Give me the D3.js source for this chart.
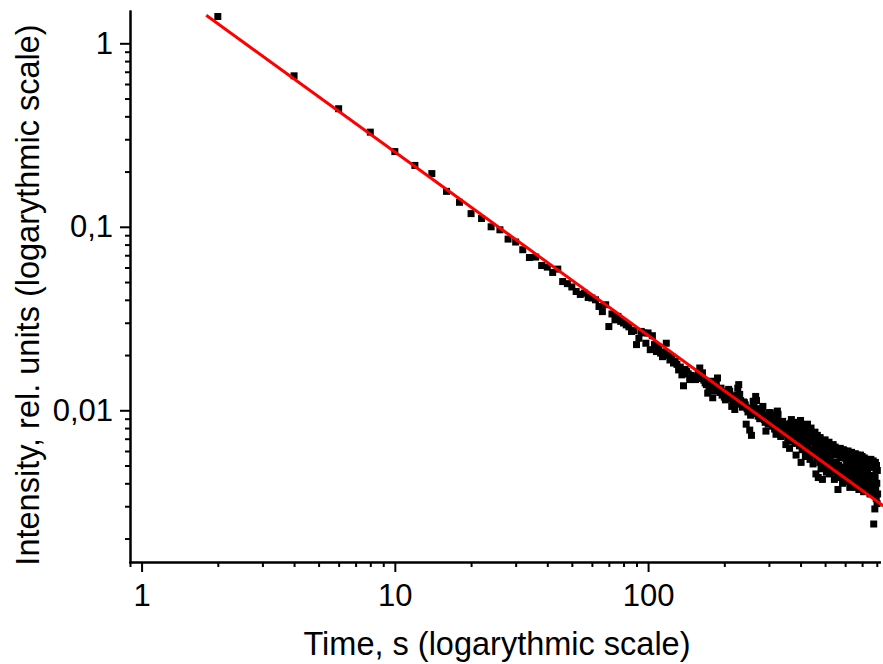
<!DOCTYPE html>
<meta charset="utf-8">
<style>

body {
  margin: 0;
  background: #fff;
}

svg {
  display: block;
}

.axis path,
.axis line {
  stroke: #000;
  stroke-width: 2px;
}

.axis text {
  font-family: "Liberation Sans", Arial, sans-serif;
  font-size: 31px;
  fill: #000;
}

.title {
  font-family: "Liberation Sans", Arial, sans-serif;
  font-size: 32.5px;
  fill: #000;
}

</style>
<body>
<script src="https://cdn.jsdelivr.net/npm/d3@7"></script>
<script>

var w = 883,
    h = 664;

var xDomain = [0.9, 820],
    yDomain = [1.5, 0.00149];

var xMajor = [1, 10, 100],
    xLabels = ["1", "10", "100"];

var yMajor = [1, 0.1, 0.01],
    yLabels = ["1", "0,1", "0,01"];

// power-law fit, I = A * t^B
var fitA = 2.56,
    fitB = -1.0,
    fitRange = [1.8, 850];

// [time (s), intensity]
var points = [
  [2,1.40],[4,0.665],[6,0.440],[8,0.328],[10,0.257],[12,0.216],[14,0.195],[16,0.156],[18,0.136],[20,0.118],
  [22,0.111],[24,0.100],[26,0.0963],[28,0.0857],[30,0.0826],[32,0.0750],[34,0.0680],[36,0.0684],[38,0.0615],[40,0.0603],
  [42,0.0564],[44,0.0588],[46,0.0503],[48,0.0490],[50,0.0470],[52,0.0444],[54,0.0428],[56,0.0435],[58,0.0412],[60,0.0409],
  [62,0.0400],[64,0.0368],[66,0.0345],[68,0.0376],[70,0.0286],[72,0.0335],[74,0.0311],[76,0.0325],[78,0.0305],[80,0.0299],
  [82,0.0292],[84,0.0285],[86,0.0269],[88,0.0272],[90,0.0228],[92,0.0247],[94,0.0269],[96,0.0264],[98,0.0232],[100,0.0264],
  [102,0.0214],[104,0.0255],[106,0.0228],[108,0.0209],[110,0.0221],[112,0.0205],[114,0.0196],[116,0.0208],[118,0.0232],[120,0.0199],
  [122,0.0188],[124,0.0196],[126,0.0181],[128,0.0185],[130,0.0178],[132,0.0166],[134,0.0172],[136,0.0156],[138,0.0136],[140,0.0167],
  [142,0.0163],[144,0.0158],[146,0.0147],[148,0.0155],[150,0.0152],[152,0.0148],[154,0.0147],[156,0.0151],[158,0.0162],[160,0.0170],
  [162,0.0149],[164,0.0160],[166,0.0146],[168,0.0141],[170,0.0138],[172,0.0124],[174,0.0131],[176,0.0136],[178,0.0144],[180,0.0117],
  [182,0.0128],[184,0.0133],[186,0.0140],[188,0.0150],[190,0.0129],[192,0.0125],[194,0.0132],[196,0.0121],[198,0.0127],[200,0.0118],
  [202,0.0114],[204,0.0122],[206,0.0116],[208,0.0130],[210,0.0127],[212,0.0119],[214,0.0105],[216,0.0112],[218,0.0118],[220,0.0101],
  [222,0.0108],[224,0.0121],[226,0.0132],[228,0.0138],[230,0.0122],[232,0.0113],[234,0.0109],[236,0.0104],[238,0.0111],[240,0.0110],
  [242,0.0107],[244,0.0084],[246,0.0102],[248,0.0098],[250,0.0103],[252,0.0078],[254,0.0094],[256,0.0073],[258,0.0099],[260,0.0112],
  [262,0.0105],[264,0.0096],[266,0.0119],[268,0.0113],[270,0.0101],[272,0.0093],[274,0.0097],[276,0.0090],[278,0.0102],[280,0.0093],
  [282,0.0099],[284,0.0105],[286,0.0094],[288,0.0089],[290,0.0086],[292,0.0077],[294,0.0092],[296,0.0089],[298,0.0084],[300,0.0097],
  [302,0.0090],[304,0.0097],[306,0.0093],[308,0.0086],[310,0.0082],[312,0.0088],[314,0.0082],[316,0.0079],[318,0.0087],[320,0.0074],
  [322,0.0091],[324,0.0099],[326,0.0095],[328,0.0083],[330,0.0079],[332,0.0085],[334,0.0072],[336,0.0081],[338,0.0077],[340,0.0087],
  [342,0.0080],[344,0.0077],[346,0.0074],[348,0.0082],[350,0.0065],[352,0.0078],[354,0.0084],[356,0.0071],[358,0.0076],[360,0.0068],
  [362,0.0062],[364,0.0079],[366,0.0085],[368,0.0089],[370,0.0083],[372,0.0080],[374,0.0073],[376,0.0070],[378,0.0078],[380,0.0066],
  [382,0.0074],[384,0.0057],[386,0.0069],[388,0.0083],[390,0.0086],[392,0.0077],[394,0.0072],[396,0.0064],[398,0.0072],[400,0.0088],
  [402,0.0052],[404,0.0068],[406,0.0061],[408,0.0079],[410,0.0083],[412,0.0074],[414,0.0063],[416,0.0081],[418,0.0056],[420,0.0070],
  [422,0.0077],[424,0.0060],[426,0.0084],[428,0.0066],[430,0.0072],[432,0.0061],[434,0.0078],[436,0.0054],[438,0.0071],[440,0.0080],
  [442,0.0058],[444,0.0069],[446,0.0074],[448,0.0051],[450,0.0067],[452,0.0072],[454,0.0057],[456,0.0076],[458,0.0062],[460,0.0045],
  [462,0.0070],[464,0.0055],[466,0.0073],[468,0.0064],[470,0.0043],[472,0.0060],[474,0.0069],[476,0.0052],[478,0.0071],[480,0.0062],
  [482,0.0048],[484,0.0067],[486,0.0057],[488,0.0042],[490,0.0066],[492,0.0055],[494,0.0068],[496,0.0060],[498,0.0049],[500,0.0069],
  [502,0.0053],[504,0.0064],[506,0.0046],[508,0.0066],[510,0.0058],[512,0.0051],[514,0.0065],[516,0.0056],[518,0.0067],[520,0.0045],
  [522,0.0062],[524,0.0054],[526,0.0064],[528,0.0048],[530,0.0060],[532,0.0063],[534,0.0050],[536,0.0059],[538,0.0065],[540,0.0046],
  [542,0.0061],[544,0.0042],[546,0.0057],[548,0.0063],[550,0.0049],[552,0.0060],[554,0.0052],[556,0.0062],[558,0.0045],[560,0.0058],
  [562,0.0037],[564,0.0061],[566,0.0050],[568,0.0059],[570,0.0047],[572,0.0057],[574,0.0062],[576,0.0043],[578,0.0055],[580,0.0060],
  [582,0.0048],[584,0.0058],[586,0.0040],[588,0.0056],[590,0.0061],[592,0.0045],[594,0.0057],[596,0.0049],[598,0.0060],[600,0.0042],
  [602,0.0055],[604,0.0059],[606,0.0046],[608,0.0053],[610,0.0058],[612,0.0041],[614,0.0056],[616,0.0060],[618,0.0047],[620,0.0044],
  [622,0.0057],[624,0.0050],[626,0.0038],[628,0.0055],[630,0.0058],[632,0.0046],[634,0.0054],[636,0.0059],[638,0.0043],[640,0.0056],
  [642,0.0040],[644,0.0049],[646,0.0057],[648,0.0044],[650,0.0053],[652,0.0056],[654,0.0041],[656,0.0051],[658,0.0058],[660,0.0043],
  [662,0.0054],[664,0.0038],[666,0.0055],[668,0.0047],[670,0.0057],[672,0.0042],[674,0.0053],[676,0.0045],[678,0.0056],[680,0.0037],
  [682,0.0050],[684,0.0055],[686,0.0042],[688,0.0051],[690,0.0057],[692,0.0040],[694,0.0048],[696,0.0054],[698,0.0044],[700,0.0056],
  [702,0.0039],[704,0.0052],[706,0.0043],[708,0.0053],[710,0.0036],[712,0.0047],[714,0.0055],[716,0.0041],[718,0.0051],[720,0.0043],
  [722,0.0054],[724,0.0038],[726,0.0048],[728,0.0053],[730,0.0041],[732,0.0052],[734,0.0039],[736,0.0046],[738,0.0054],[740,0.0037],
  [742,0.0050],[744,0.0042],[746,0.0053],[748,0.0040],[750,0.0049],[752,0.0035],[754,0.0051],[756,0.0044],[758,0.0054],[760,0.0040],
  [762,0.0049],[764,0.0036],[766,0.0052],[768,0.0042],[770,0.0050],[772,0.0038],[774,0.0053],[776,0.0044],[778,0.0024],[780,0.0051],
  [782,0.0041],[784,0.0049],[786,0.0029],[788,0.0043],[790,0.0052],[792,0.0037],[794,0.0048],[796,0.0033],[798,0.0050],[800,0.0040],
  [802,0.0031],[804,0.0047],[806,0.0035]
];

var x = d3.scaleLog()
    .domain(xDomain)
    .range([130, 879.5]);

var y = d3.scaleLog()
    .domain(yDomain)
    .range([11, 562]);

function isMajor(d) {
  var l = Math.log10(d);
  return Math.abs(l - Math.round(l)) < 1e-6;
}

var svg = d3.select("body").append("svg")
    .attr("width", w)
    .attr("height", h);

svg.append("rect")
    .attr("width", w)
    .attr("height", h)
    .attr("fill", "#fff");

// minor ticks
svg.append("g")
    .attr("class", "axis")
    .attr("transform", "translate(0,562)")
    .call(d3.axisBottom(x)
      .tickValues(x.ticks().filter(function(d) { return !isMajor(d); }))
      .tickSize(5)
      .tickSizeOuter(0)
      .tickFormat(""));

svg.append("g")
    .attr("class", "axis")
    .attr("transform", "translate(130,0)")
    .call(d3.axisLeft(y)
      .tickValues(y.ticks().filter(function(d) { return !isMajor(d); }))
      .tickSize(5)
      .tickSizeOuter(0)
      .tickFormat(""));

// major ticks with labels
svg.append("g")
    .attr("class", "axis")
    .attr("transform", "translate(0,562)")
    .call(d3.axisBottom(x)
      .tickValues(xMajor)
      .tickSize(10)
      .tickSizeOuter(0)
      .tickPadding(12)
      .tickFormat(function(d, i) { return xLabels[i]; }));

svg.append("g")
    .attr("class", "axis")
    .attr("transform", "translate(130,0)")
    .call(d3.axisLeft(y)
      .tickValues(yMajor)
      .tickSize(10)
      .tickSizeOuter(0)
      .tickPadding(7)
      .tickFormat(function(d, i) { return yLabels[i]; }));

svg.selectAll(".axis .domain")
    .attr("stroke-linecap", "square");

// data points
svg.append("g")
    .selectAll("rect")
    .data(points)
  .enter().append("rect")
    .attr("x", function(d) { return x(d[0]) - 3.5; })
    .attr("y", function(d) { return y(d[1]) - 3.5; })
    .attr("width", 7)
    .attr("height", 7)
    .attr("fill", "#000");

// fit line
var line = d3.line()
    .x(function(d) { return x(d); })
    .y(function(d) { return y(fitA * Math.pow(d, fitB)); });

svg.append("path")
    .datum(fitRange)
    .attr("d", line)
    .attr("fill", "none")
    .attr("stroke", "#ff0000")
    .attr("stroke-width", 3);

// axis titles
svg.append("text")
    .attr("class", "title")
    .attr("x", 497)
    .attr("y", 655)
    .attr("text-anchor", "middle")
    .text("Time, s (logarythmic scale)");

svg.append("text")
    .attr("class", "title")
    .attr("transform", "translate(39,295)rotate(-90)")
    .attr("text-anchor", "middle")
    .text("Intensity, rel. units (logarythmic scale)");

</script>
</body>
